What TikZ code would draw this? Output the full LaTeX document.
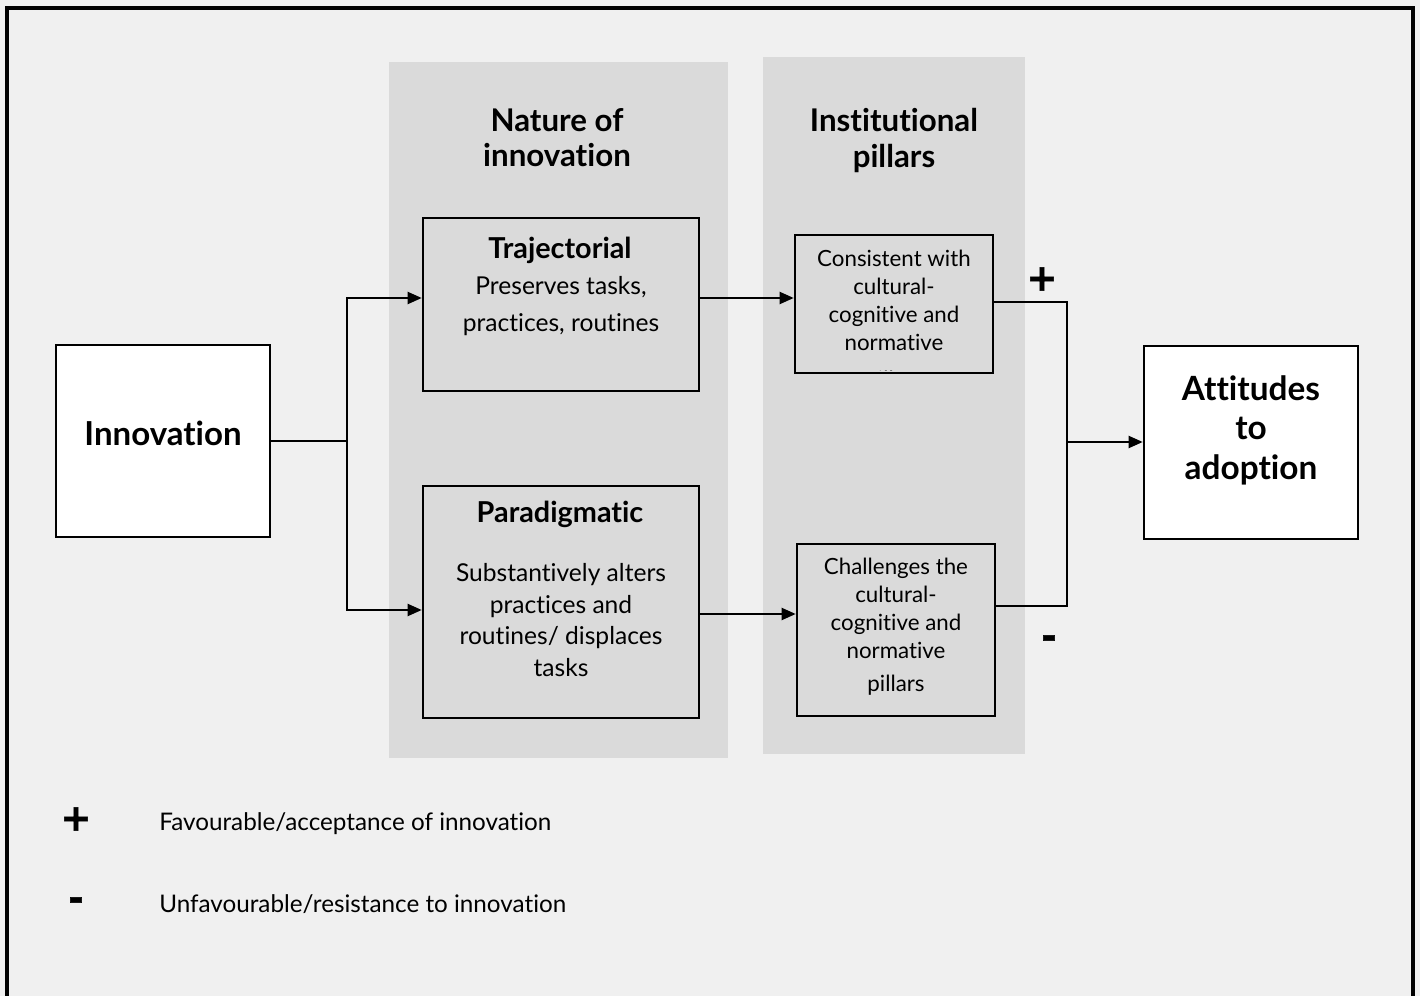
\documentclass[tikz,border=0pt]{standalone}
\usepackage{fontspec}
\setmainfont{Lato}[Ligatures=NoCommon]
\newfontfamily\signfont{DejaVu Sans}[UprightFont=*, BoldFont=* Bold, BoldFeatures={FakeBold=1.5}]
\usetikzlibrary{arrows.meta}
\definecolor{bgc}{HTML}{F0F0F0}
\definecolor{panel}{HTML}{DADADA}
\begin{document}
\begin{tikzpicture}[x=0.02cm,y=-0.02cm,
  box/.style={draw=black,line width=1.6pt,fill=panel,inner sep=0pt},
  wbox/.style={box,fill=white},
  conn/.style={line width=0.8pt},
  arr/.style={conn,-{Triangle[length=8pt,width=7pt]}},
  hd/.style={font=\bfseries\fontsize{17.8}{20}\selectfont,align=center,inner sep=0pt},
  sub/.style={font=\bfseries\fontsize{16.4}{18}\selectfont,align=center,inner sep=0pt},
  body/.style={font=\fontsize{14}{21}\selectfont,align=center,inner sep=0pt},
  small/.style={font=\fontsize{12.7}{16}\selectfont,align=center,inner sep=0pt},
  sign/.style={font=\signfont\bfseries\fontsize{21}{21}\selectfont,inner sep=0pt},
  leg/.style={font=\fontsize{13.8}{15}\selectfont,anchor=west,inner sep=0pt}]
\useasboundingbox (0,0) rectangle (1420,996);
\fill[bgc] (0,0) rectangle (1420,996);
\draw[line width=2pt] (7,1010) -- (7,8) -- (1413,8) -- (1413,1010);
% panels
\fill[panel] (389,62) rectangle (728,758);
\fill[panel] (763,57) rectangle (1025,754);
\node[hd] (natT) at (557,137.5) {Nature of\\innovation};
\node[hd] (instT) at (894,140.5) {Institutional\\pillars};
% boxes
\node[wbox,minimum width=4.28cm,minimum height=3.84cm] (inn) at (163,441) {};
\node[font=\bfseries\fontsize{18.8}{20}\selectfont,inner sep=0pt] (innT) at (163,433) {Innovation};
\node[box,minimum width=5.52cm,minimum height=3.46cm] (traj) at (561,304.5) {};
\node[sub] (trajT) at (560,250) {Trajectorial};
\node[body] (trajD) at (561,306.5) {Preserves tasks,\\practices, routines};
\node[box,minimum width=5.52cm,minimum height=4.64cm] (para) at (561,602) {};
\node[sub] (paraT) at (560,514) {Paradigmatic};
\node[body,font=\fontsize{14}{18}\selectfont] (paraD) at (561,620) {Substantively alters\\practices and\\routines/ displaces\\tasks};
\node[box,minimum width=3.96cm,minimum height=2.76cm] (cons) at (894,304) {};
\begin{scope}
\clip (797,237) rectangle (991,371);
\node[small] (consD) at (894,320.5) {Consistent with\\cultural-\\cognitive and\\normative\\[5pt]pillars};
\end{scope}
\node[box,minimum width=3.96cm,minimum height=3.44cm] (chal) at (896,630) {};
\node[small] (chalD) at (896,626.5) {Challenges the\\cultural-\\cognitive and\\normative\\[2.5pt]pillars};
\node[wbox,minimum width=4.28cm,minimum height=3.86cm] (att) at (1251,442.5) {};
\node[font=\bfseries\fontsize{19}{22.5}\selectfont,align=center,inner sep=0pt] (attT) at (1251,430) {Attitudes\\to\\adoption};
% connectors
\coordinate (split) at (347,441);
\coordinate (merge) at (1067,442);
\draw[conn] (inn.east) -- (split);
\draw[arr] (split) |- ([yshift=0.13cm]traj.west);
\draw[arr] (split) |- ([yshift=-0.16cm]para.west);
\draw[arr] ([yshift=0.13cm]traj.east) -- ([yshift=0.13cm]traj.east -| cons.west);
\draw[arr] ([yshift=-0.24cm]para.east) -- ([yshift=-0.24cm]para.east -| chal.west);
\draw[conn] ([yshift=0.04cm]cons.east) -| (merge);
\draw[conn] ([yshift=0.48cm]chal.east) -| (merge);
\draw[arr] (merge) -- (merge -| att.west);
% signs
\node[sign] (plus) at (1042,279) {+};
\node[sign] (minus) at (1049,642) {-};
% legend
\node[sign] (lplus) at (76,819) {+};
\node[leg] (ltxt1) at (159,824) {Favourable/acceptance of innovation};
\node[sign] (lminus) at (76,904) {-};
\node[leg] (ltxt2) at (159,904) {Unfavourable/resistance to innovation};
\end{tikzpicture}
\end{document}
